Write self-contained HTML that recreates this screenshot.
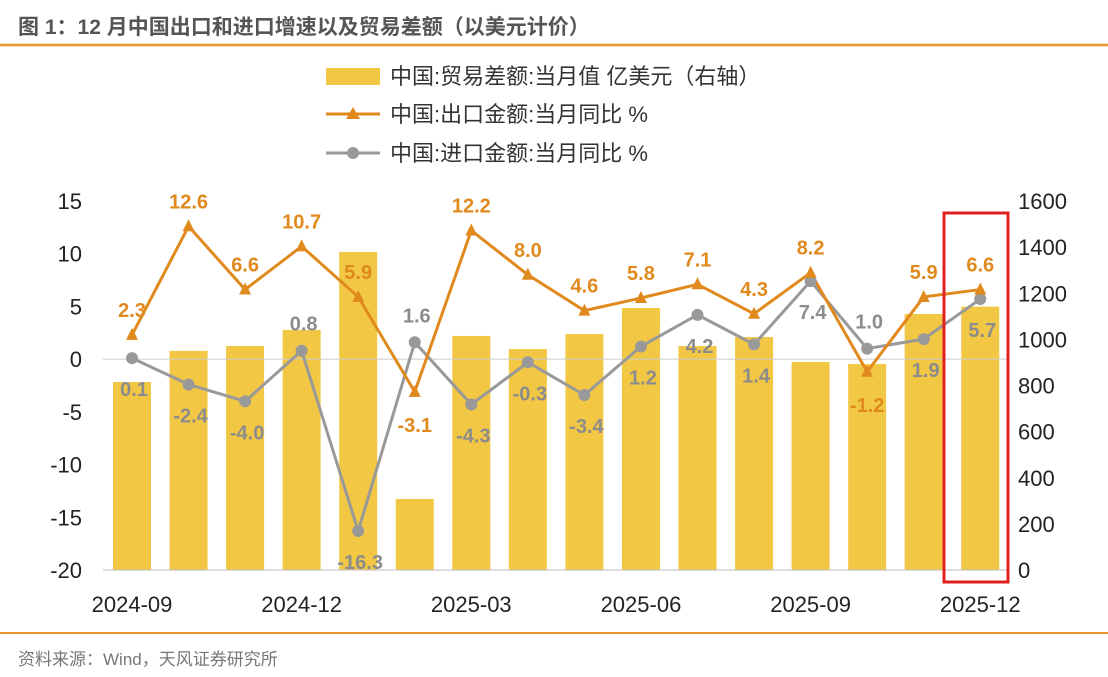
<!DOCTYPE html>
<html><head><meta charset="utf-8"><style>
body{margin:0;background:#fff;width:1108px;height:677px;overflow:hidden;font-family:"Liberation Sans","Noto Sans CJK SC",sans-serif}
svg{display:block}
</style></head><body>
<svg id="c" width="1108" height="677" xmlns="http://www.w3.org/2000/svg" font-family="Liberation Sans, Noto Sans CJK SC, sans-serif">
<text x="18" y="34" font-size="21" fill="#555" font-weight="bold">图 1：12 月中国出口和进口增速以及贸易差额（以美元计价）</text>
<line x1="0" y1="45" x2="1108" y2="45" stroke="#E8962E" stroke-width="2.5"/>
<line x1="0" y1="633" x2="1108" y2="633" stroke="#E8962E" stroke-width="2"/>
<text x="18" y="665" font-size="17" fill="#777">资料来源：Wind，天风证券研究所</text>
<g>
<rect x="326" y="68" width="54" height="17" fill="#F2C744"/>
<text x="390" y="84" font-size="22" fill="#333">中国:贸易差额:当月值 亿美元（右轴）</text>
<line x1="326" y1="114" x2="380" y2="114" stroke="#E08A1E" stroke-width="3"/>
<path d="M353 107 L360 119 L346 119 Z" fill="#E08A1E"/>
<text x="390" y="122" font-size="22" fill="#333">中国:出口金额:当月同比 %</text>
<line x1="326" y1="153" x2="380" y2="153" stroke="#999" stroke-width="3"/>
<circle cx="353" cy="153" r="6" fill="#999"/>
<text x="390" y="161" font-size="22" fill="#333">中国:进口金额:当月同比 %</text>
</g>
<g id="plot"></g>
<rect x="944" y="213" width="64" height="369" fill="none" stroke="#E02020" stroke-width="3"/>
</svg>
<script>
const months=["2024-09","2024-10","2024-11","2024-12","2025-01","2025-02","2025-03","2025-04","2025-05","2025-06","2025-07","2025-08","2025-09","2025-10","2025-11","2025-12"];
const tradeBalance=[815,950,971,1041,1379,308,1015,958,1023,1136,971,1010,902,893,1110,1142];
const exportYoY=[2.3,12.6,6.6,10.7,5.9,-3.1,12.2,8.0,4.6,5.8,7.1,4.3,8.2,-1.2,5.9,6.6];
const importYoY=[0.1,-2.4,-4.0,0.8,-16.3,1.6,-4.3,-0.3,-3.4,1.2,4.2,1.4,7.4,1.0,1.9,5.7];
const leftTicks=[15,10,5,0,-5,-10,-15,-20];
const rightTicks=[1600,1400,1200,1000,800,600,400,200,0];
const xLabelIdx=[0,3,6,9,12,15];
const expBelow=[5,13];
const impAbove=[3,5,13];
const NS="http://www.w3.org/2000/svg";
const g=document.getElementById('plot');
const yTop=201,yBot=570;
const yL=v=>yBot-(v+20)/35*(yBot-yTop);
const yR=v=>yBot-v/1600*(yBot-yTop);
const xM=i=>132+i*56.55;
function mk(t,a,p){const e=document.createElementNS(NS,t);for(const k in a)e.setAttribute(k,a[k]);(p||g).appendChild(e);return e;}
leftTicks.forEach(v=>{const t=mk('text',{x:82,y:yL(v)+8,'font-size':22,fill:'#222','text-anchor':'end'});t.textContent=v;

});
rightTicks.forEach(v=>{const t=mk('text',{x:1018,y:yR(v)+8,'font-size':22,fill:'#222'});t.textContent=v;

});
tradeBalance.forEach((v,i)=>{const r=mk('rect',{x:xM(i)-19,y:yR(v),width:38,height:yBot-yR(v),fill:'#F2C744'});

});
const ax=mk('line',{x1:103,y1:yBot,x2:1008,y2:yBot,stroke:'#bbb','stroke-width':1});


const zl=mk('line',{x1:103,y1:yL(0),x2:1008,y2:yL(0),stroke:'#ccc','stroke-width':1});


xLabelIdx.forEach(i=>{const t=mk('text',{x:xM(i),y:612,'font-size':22,fill:'#222','text-anchor':'middle'});t.textContent=months[i];

});
const ip=mk('polyline',{points:importYoY.map((v,i)=>xM(i)+','+yL(v)).join(' '),fill:'none',stroke:'#999','stroke-width':3});


const ep=mk('polyline',{points:exportYoY.map((v,i)=>xM(i)+','+yL(v)).join(' '),fill:'none',stroke:'#E08A1E','stroke-width':3});


importYoY.forEach((v,i)=>{const x=xM(i),y=yL(v);const p=mk('circle',{cx:x,cy:y,r:6,fill:'#999'});


const up=impAbove.includes(i);const t=mk('text',{x:x+2,y:up?y-20:y+38,'font-size':20,'font-weight':'bold',fill:'#8c8c8c','text-anchor':'middle'});t.textContent=v.toFixed(1);

});
exportYoY.forEach((v,i)=>{const x=xM(i),y=yL(v);const p=mk('path',{d:`M${x} ${y-7}L${x+6} ${y+5}L${x-6} ${y+5}Z`,fill:'#E08A1E'});


const dn=expBelow.includes(i);const t=mk('text',{x:x,y:dn?y+40:y-18,'font-size':20,'font-weight':'bold',fill:'#E08A1E','text-anchor':'middle'});t.textContent=v.toFixed(1);

});
</script>
</body></html>
